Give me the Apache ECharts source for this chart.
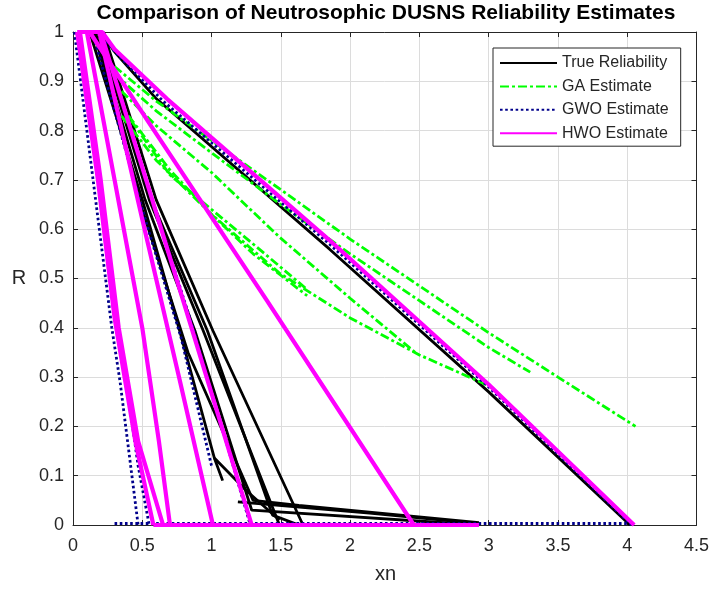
<!DOCTYPE html>
<html>
<head>
<meta charset="utf-8">
<script src="https://cdn.jsdelivr.net/npm/echarts@6/dist/echarts.min.js"></script>
<style>html,body{margin:0;padding:0;background:#fff}#c{width:712px;height:590px}</style>
</head>
<body>
<div id="c"></div>
<script>
// ---- data ----
const xTicks = [0, 0.5, 1, 1.5, 2, 2.5, 3, 3.5, 4, 4.5];
const yTicks = [0, 0.1, 0.2, 0.3, 0.4, 0.5, 0.6, 0.7, 0.8, 0.9, 1];
const legendNames = ['True Reliability', 'GA Estimate', 'GWO Estimate', 'HWO Estimate'];

const trueLines = [
  [[0.2,1],[0.3,0.96],[0.6,0.865],[1.85,0.56],[3.0,0.27],[4.02,0]],
  [[0.12,1],[0.5,0.66],[0.77,0.394],[1.02,0.136],[1.08,0.09]],
  [[1.02,0.136],[1.25,0.07],[1.49,0.01]],
  [[0.18,1],[0.55,0.66],[0.94,0.394],[1.49,0]],
  [[0.22,1],[0.6,0.66],[1.01,0.394],[1.66,0]],
  [[0.2,1],[0.58,0.65],[0.97,0.394],[1.44,0.02],[1.63,0]],
  [[0.16,1],[0.52,0.66],[0.88,0.394],[1.29,0.03],[2.93,0]],
  [[1.19,0.047],[2.14,0.024],[2.93,0.003]],
  [[0.15,1],[0.5,0.64],[0.83,0.35],[1.3,0.05],[1.63,0.04],[2.93,0.005]]
];
const gaLines = [
  [[0.3,0.93],[0.6,0.86],[1,0.78],[1.5,0.68],[2,0.58],[2.5,0.485],[3,0.39],[3.5,0.3],[4.06,0.2]],
  [[0.3,0.915],[0.6,0.84],[1,0.755],[1.5,0.65],[2,0.55],[2.5,0.455],[3.0,0.36],[3.3,0.31]],
  [[0.35,0.88],[0.6,0.81],[1,0.715],[1.49,0.584],[2,0.46],[2.47,0.35]],
  [[0.35,0.83],[0.6,0.74],[1,0.63],[1.49,0.511],[2,0.42],[2.5,0.345],[3.02,0.28]],
  [[0.4,0.83],[0.7,0.72],[1,0.63],[1.3,0.55],[1.69,0.465]],
  [[0.42,0.82],[0.7,0.71],[1,0.64],[1.3,0.57],[1.68,0.48]]
];
const gwoLines = [
  [[0.01,1],[0.1,0.8],[0.28,0.4],[0.34,0.29],[0.47,0]],
  [[0.2,1],[0.55,0.68],[0.87,0.396],[1.28,0]],
  [[0.22,0.99],[0.3,0.96],[0.65,0.86],[1.85,0.57],[3.0,0.28],[4.03,0]],
  [[0.14,1],[0.5,0.64],[0.78,0.38],[1.0,0.12]],
  [[0.05,1],[0.2,0.68],[0.33,0.4],[0.47,0.12],[0.55,0]],
  [[0.3,0.003],[4.05,0.003]]
];
const hwoLines = [
  [[0.03,1],[0.21,1],[0.3,0.965],[0.68,0.864],[1.85,0.578],[3.0,0.285],[4.05,0]],
  [[0.12,1],[0.55,0.815],[1.4,0.455],[2.46,0]],
  [[0.03,1],[0.18,0.7],[0.3,0.42],[0.45,0.17],[0.58,0]],
  [[0.05,1],[0.2,0.7],[0.33,0.4],[0.47,0.17],[0.65,0]],
  [[0.1,1],[0.3,0.7],[0.5,0.4],[0.62,0.17],[0.70,0]],
  [[0.19,1],[0.5,0.62],[0.77,0.294],[1.01,0]],
  [[0.2,1],[0.55,0.68],[0.86,0.396],[1.29,0]],
  [[0.58,0],[2.93,0]]
];

// ---- chart ----
const AX = '#262626';
const FONT = '"Liberation Sans", Arial, Helvetica, sans-serif';
const styles = {
  'True Reliability': {color:'#000000', width:2.8, type:'solid'},
  'GA Estimate': {color:'#00ff00', width:2.8, type:[9,3,3,3]},
  'GWO Estimate': {color:'#00008b', width:2.8, type:[2.6,2.6]},
  'HWO Estimate': {color:'#ff00ff', width:4.2, type:'solid'}
};
function mk(lines, name) {
  return lines.map(pts => ({
    type:'line', name:name, data:pts, symbol:'none', showSymbol:false,
    silent:true, animation:false, clip:true,
    lineStyle:styles[name], itemStyle:{color:styles[name].color}
  }));
}
const series = [].concat(
  mk(trueLines, legendNames[0]),
  mk(gaLines, legendNames[1]),
  mk(gwoLines, legendNames[2]),
  mk(hwoLines, legendNames[3])
);

const xMin = xTicks[0], xMax = xTicks[xTicks.length-1];
const yMin = yTicks[0], yMax = yTicks[yTicks.length-1];
const fmt = v => String(Math.round(v*10)/10);

const chart = echarts.init(document.getElementById('c'), null, {renderer:'canvas'});
chart.setOption({
  animation:false,
  backgroundColor:'#ffffff',
  textStyle:{fontFamily:FONT},
  grid:{left:73, right:14, top:32, bottom:65, containLabel:false},
  legend:{
    data:legendNames, orient:'vertical', left:493, top:48,
    padding:[7,12,5,6], itemWidth:57, itemHeight:14, itemGap:7.4,
    backgroundColor:'#ffffff', borderColor:AX, borderWidth:1,
    textStyle:{fontSize:16, color:AX, fontFamily:FONT},
    itemStyle:{opacity:0},
    selectedMode:false
  },
  xAxis:[{
    type:'value', min:xMin, max:xMax, interval:0.5, position:'bottom',
    axisLine:{show:true, onZero:false, lineStyle:{color:AX, width:1}},
    axisTick:{show:true, inside:true, length:5, lineStyle:{color:AX}},
    axisLabel:{fontSize:18, color:AX, margin:12, fontFamily:FONT, formatter:fmt},
    splitLine:{show:true, lineStyle:{color:'#dcdcdc', width:1}}
  },{
    type:'value', min:xMin, max:xMax, interval:0.5, position:'top',
    axisLine:{show:true, onZero:false, lineStyle:{color:AX, width:1}},
    axisTick:{show:true, inside:true, length:5, lineStyle:{color:AX}},
    axisLabel:{show:false}, splitLine:{show:false}
  }],
  yAxis:[{
    type:'value', min:yMin, max:yMax, interval:0.1, position:'left',
    axisLine:{show:true, onZero:false, lineStyle:{color:AX, width:1}},
    axisTick:{show:true, inside:true, length:5, lineStyle:{color:AX}},
    axisLabel:{fontSize:18, color:AX, margin:9, fontFamily:FONT, formatter:fmt},
    splitLine:{show:true, lineStyle:{color:'#dcdcdc', width:1}}
  },{
    type:'value', min:yMin, max:yMax, interval:0.1, position:'right',
    axisLine:{show:true, onZero:false, lineStyle:{color:AX, width:1}},
    axisTick:{show:true, inside:true, length:5, lineStyle:{color:AX}},
    axisLabel:{show:false}, splitLine:{show:false}
  }],
  graphic:[
    {type:'text', x:386, y:13, style:{text:'Comparison of Neutrosophic DUSNS Reliability Estimates',
      font:'bold 21px ' + FONT, fill:'#000', align:'center', verticalAlign:'middle'}},
    {type:'text', x:385.5, y:574, style:{text:'xn', font:'20px ' + FONT, fill:AX, align:'center', verticalAlign:'middle'}},
    {type:'text', x:19, y:278, style:{text:'R', font:'20px ' + FONT, fill:AX, align:'center', verticalAlign:'middle'}}
  ],
  series:series
});
</script>
</body>
</html>
